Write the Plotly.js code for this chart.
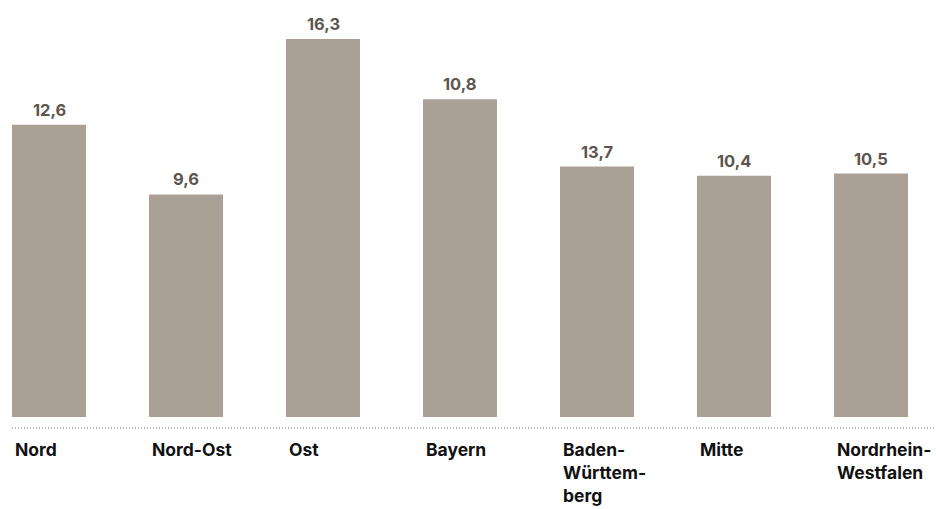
<!DOCTYPE html>
<html>
<head>
<meta charset="utf-8">
<script src="https://cdn.plot.ly/plotly-3.0.1.min.js"></script>
<style>html,body{margin:0;padding:0;background:#fff;}#chart{width:936px;height:509px;}</style>
</head>
<body>
<div id="chart"></div>
<script>
// Data
var categories = ["Nord", "Nord-Ost", "Ost", "Bayern", "Baden-<br>Württem-<br>berg", "Mitte", "Nordrhein-<br>Westfalen"];
var values = [12.6, 9.6, 16.3, 13.7, 10.8, 10.4, 10.5];          // bar heights as drawn
var valueLabels = ["12,6", "9,6", "16,3", "10,8", "13,7", "10,4", "10,5"]; // labels as printed

var idx = categories.map(function (_, i) { return i; });
var FONT = "Inter, 'Liberation Sans', Arial, sans-serif";
var pxPerUnit = 23.19;
var yBottom = -92 / pxPerUnit;
var yTop = 417 / pxPerUnit;
var lineY = -11 / pxPerUnit;
var labelY = -20 / pxPerUnit;
var barW = 0.54;

var annotations = [];
idx.forEach(function (i) {
  annotations.push({
    x: i, y: values[i], xref: 'x', yref: 'y',
    text: '<b>' + valueLabels[i] + '</b>', showarrow: false,
    xanchor: 'center', yanchor: 'bottom', yshift: 3,
    font: {family: FONT, size: 16.5, color: '#5e564d'}
  });
  annotations.push({
    x: i - barW / 2, y: labelY, xref: 'x', yref: 'y',
    text: '<b>' + categories[i] + '</b>', showarrow: false,
    xanchor: 'left', yanchor: 'top', align: 'left', xshift: 1,
    font: {family: FONT, size: 17.5, color: '#111111'}
  });
});

var trace = {
  type: 'bar', x: idx, y: values, width: barW,
  marker: {color: '#aaa095', line: {width: 0}},
  hoverinfo: 'skip'
};

var layout = {
  width: 936, height: 509,
  margin: {l: 0, r: 0, t: 0, b: 0, pad: 0},
  paper_bgcolor: '#ffffff', plot_bgcolor: '#ffffff',
  showlegend: false,
  xaxis: {range: [-49 / 137, 887 / 137], showgrid: false, zeroline: false, showticklabels: false, ticks: '', showline: false, fixedrange: true},
  yaxis: {range: [yBottom, yTop], showgrid: false, zeroline: false, showticklabels: false, ticks: '', showline: false, fixedrange: true},
  shapes: [{
    type: 'line', xref: 'x', yref: 'y',
    x0: -0.27, x1: 887 / 137, y0: lineY, y1: lineY,
    line: {color: '#777777', width: 1, dash: '1px,2px'}
  }],
  annotations: annotations
};

Plotly.newPlot('chart', [trace], layout, {displayModeBar: false, staticPlot: true});
</script>
</body>
</html>
